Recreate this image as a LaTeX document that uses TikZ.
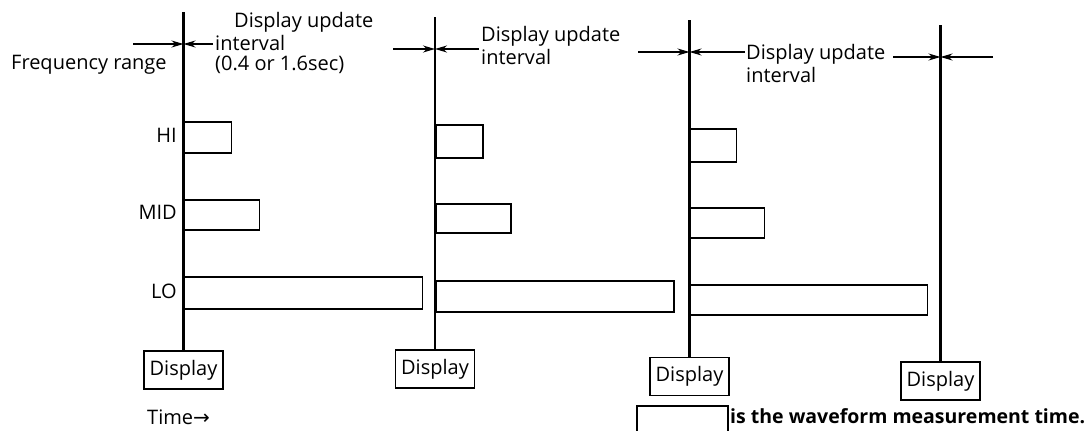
\documentclass[tikz,border=0pt]{standalone}
\usepackage{fontspec}
\setmainfont{Open Sans}
\newfontfamily\symfont{DejaVu Sans}
\usetikzlibrary{arrows.meta}
\begin{document}
\begin{tikzpicture}[x=1pt,y=-1pt,
  every node/.style={font=\fontsize{20}{23}\selectfont, inner sep=0pt},
  axis/.style={line width=2.2pt},
  dispbox/.style={draw, line width=1.8pt, minimum height=38pt, minimum width=79pt, inner sep=0pt},
  meas/.style={draw, line width=1.9pt},
  dim/.style={line width=1.6pt, -{Stealth[length=12pt,width=7pt]}},
  lbl/.style={anchor=west, align=left}
]
\useasboundingbox (0,0) rectangle (1088,431);
\fill[white] (0,0) rectangle (1088,431);

% Display boxes
\node[dispbox] (d1) at (183.5,370) {Display};
\node[dispbox] (d2) at (435,369) {Display};
\node[dispbox] (d3) at (689.5,376.5) {Display};
\node[dispbox] (d4) at (940.5,381) {Display};

% time lines
\coordinate (t1) at (183.5,12);
\coordinate (t2) at (435,17);
\coordinate (t3) at (689.5,20);
\coordinate (t4) at (940.5,25);
\draw[axis] (t1) -- (d1.north);
\draw[axis] (t2) -- (d2.north);
\draw[axis] (t3) -- (d3.north);
\draw[axis] (t4) -- (d4.north);

% measurement boxes
\node[meas, anchor=north west, minimum width=47pt, minimum height=31pt] (h1) at (183.5,121) {};
\node[meas, anchor=north west, minimum width=47pt, minimum height=33pt] (h2) at (435,124) {};
\node[meas, anchor=north west, minimum width=46pt, minimum height=33pt] (h3) at (689.5,128) {};
\node[meas, anchor=north west, minimum width=75pt, minimum height=30pt] (m1) at (183.5,199) {};
\node[meas, anchor=north west, minimum width=75pt, minimum height=29pt] (m2) at (435,203) {};
\node[meas, anchor=north west, minimum width=74pt, minimum height=30pt] (m3) at (689.5,207) {};
\node[meas, anchor=north west, minimum width=238pt, minimum height=32pt] (l1) at (183.5,276) {};
\node[meas, anchor=north west, minimum width=238pt, minimum height=31pt] (l2) at (435,280) {};
\node[meas, anchor=north west, minimum width=237pt, minimum height=30pt] (l3) at (689.5,284) {};

% range labels
\node[anchor=east] (hi) at (177,135) {HI};
\node[anchor=east] (mid) at (177,212) {MID};
\node[anchor=east] (lo) at (177,291) {LO};
\node[anchor=west] (fr) at (11,65) {Frequency range};

% dimension arrows
\coordinate (a1l) at (133,44);  \coordinate (a1c) at (183.5,44);  \coordinate (a1r) at (213,44);
\coordinate (a2l) at (393,49);  \coordinate (a2c) at (435,49);    \coordinate (a2r) at (479,49);
\coordinate (a3l) at (638,52);  \coordinate (a3c) at (689.5,52);  \coordinate (a3r) at (745,52);
\coordinate (a4l) at (893,57);  \coordinate (a4c) at (940.5,57);  \coordinate (a4r) at (993,57);
\draw[dim] (a1l) -- (a1c); \draw[dim] (a1r) -- (a1c);
\draw[dim] (a2l) -- (a2c); \draw[dim] (a2r) -- (a2c);
\draw[dim] (a3l) -- (a3c); \draw[dim] (a3r) -- (a3c);
\draw[dim] (a4l) -- (a4c); \draw[dim] (a4r) -- (a4c);

% interval texts
\node[lbl] (u1) at (234,22) {Display update};
\node[lbl] (i1) at (215,43) {interval};
\node[lbl] (s1) at (215,65) {(0.4 or 1.6sec)};
\node[lbl] (u2) at (481,36) {Display update};
\node[lbl] (i2) at (481,57) {interval};
\node[lbl] (u3) at (746,54) {Display update};
\node[lbl] (i3) at (746,75) {interval};

% time and legend
\node[anchor=west] (time) at (147,417) {Time{\symfont →}};
\node[meas, anchor=north west, minimum width=91pt, minimum height=40pt] (leg) at (636,405) {};
\node[anchor=west, font=\fontsize{19.5}{22}\selectfont\bfseries] (legt) at (730,416) {is the waveform measurement time.};
\end{tikzpicture}
\end{document}
